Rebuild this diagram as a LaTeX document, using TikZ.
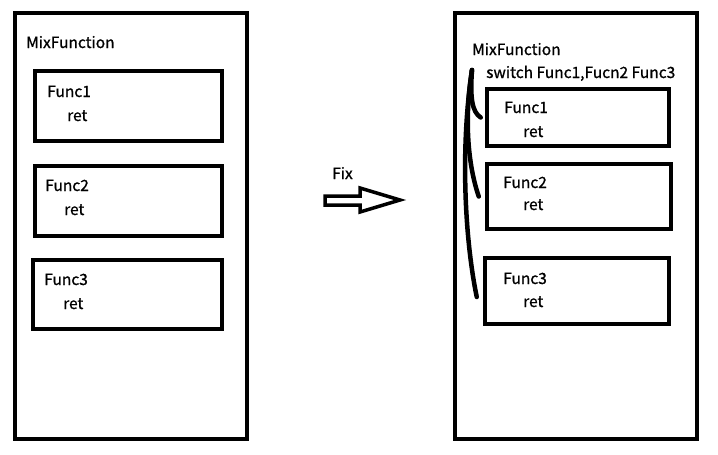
\documentclass[tikz,border=0pt]{standalone}
\usepackage{fontspec}
\setmainfont{Noto Sans CJK SC}[UprightFeatures={FakeBold=1}]
\begin{document}
\begin{tikzpicture}[x=1pt, y=-1pt, font=\fontsize{15.5}{19}\selectfont,
    box/.style={draw, line width=4.5pt, rectangle, inner sep=0pt},
    txt/.style={anchor=base west, inner sep=0pt},
    pen/.style={line width=4.5pt, line cap=round}]
    \useasboundingbox (0,0) rectangle (718,455);

    % Original function
    \node[box, minimum width=232pt, minimum height=426pt] (mixl) at (131, 226) {};
    \node[txt] (mixltxt) at (26, 48) {MixFunction};
    \node[box, minimum width=187pt, minimum height=70pt] (f1l) at (128.5, 106) {};
    \node[box, minimum width=187pt, minimum height=70pt] (f2l) at (128.5, 201) {};
    \node[box, minimum width=189pt, minimum height=69pt] (f3l) at (127.5, 294.5) {};
    \node[txt] (f1ltxt) at (47, 97) {Func1};
    \node[txt] (r1ltxt) at (67, 121) {ret};
    \node[txt] (f2ltxt) at (45, 191) {Func2};
    \node[txt] (r2ltxt) at (64, 215) {ret};
    \node[txt] (f3ltxt) at (44, 285) {Func3};
    \node[txt] (r3ltxt) at (63, 309) {ret};

    % Fix arrow
    \node[txt] (fix) at (332, 179) {Fix};
    \draw[line width=3.5pt, line join=miter] (325,196) -- (360,196) -- (360,188) -- (400,200)
        -- (360,212) -- (360,205) -- (325,205) -- cycle;

    % Fixed function
    \node[box, minimum width=242pt, minimum height=426pt] (mixr) at (576, 226) {};
    \node[txt] (mixrtxt) at (472, 55) {MixFunction};
    \node[txt] (swtxt) at (486, 78) {switch Func1,Fucn2 Func3};
    \node[box, minimum width=182pt, minimum height=57pt] (f1r) at (578, 117.5) {};
    \node[box, minimum width=184pt, minimum height=65pt] (f2r) at (579, 196.5) {};
    \node[box, minimum width=184pt, minimum height=66pt] (f3r) at (577, 291) {};
    \node[txt] (f1rtxt) at (504, 113) {Func1};
    \node[txt] (r1rtxt) at (523, 137) {ret};
    \node[txt] (f2rtxt) at (503, 188) {Func2};
    \node[txt] (r2rtxt) at (523, 210) {ret};
    \node[txt] (f3rtxt) at (503, 284) {Func3};
    \node[txt] (r3rtxt) at (523, 307) {ret};

    % switch strokes
    \coordinate (sw) at (472, 70);
    \draw[pen] (sw) .. controls (470, 98) and (472, 112) .. ([xshift=-4pt]f1r.west);
    \draw[pen] (sw) .. controls (464, 120) and (468, 165) .. ([xshift=-6pt]f2r.west);
    \draw[pen] (sw) .. controls (460, 150) and (465, 240) .. ([xshift=-6pt, yshift=-6pt]f3r.west);
\end{tikzpicture}
\end{document}
